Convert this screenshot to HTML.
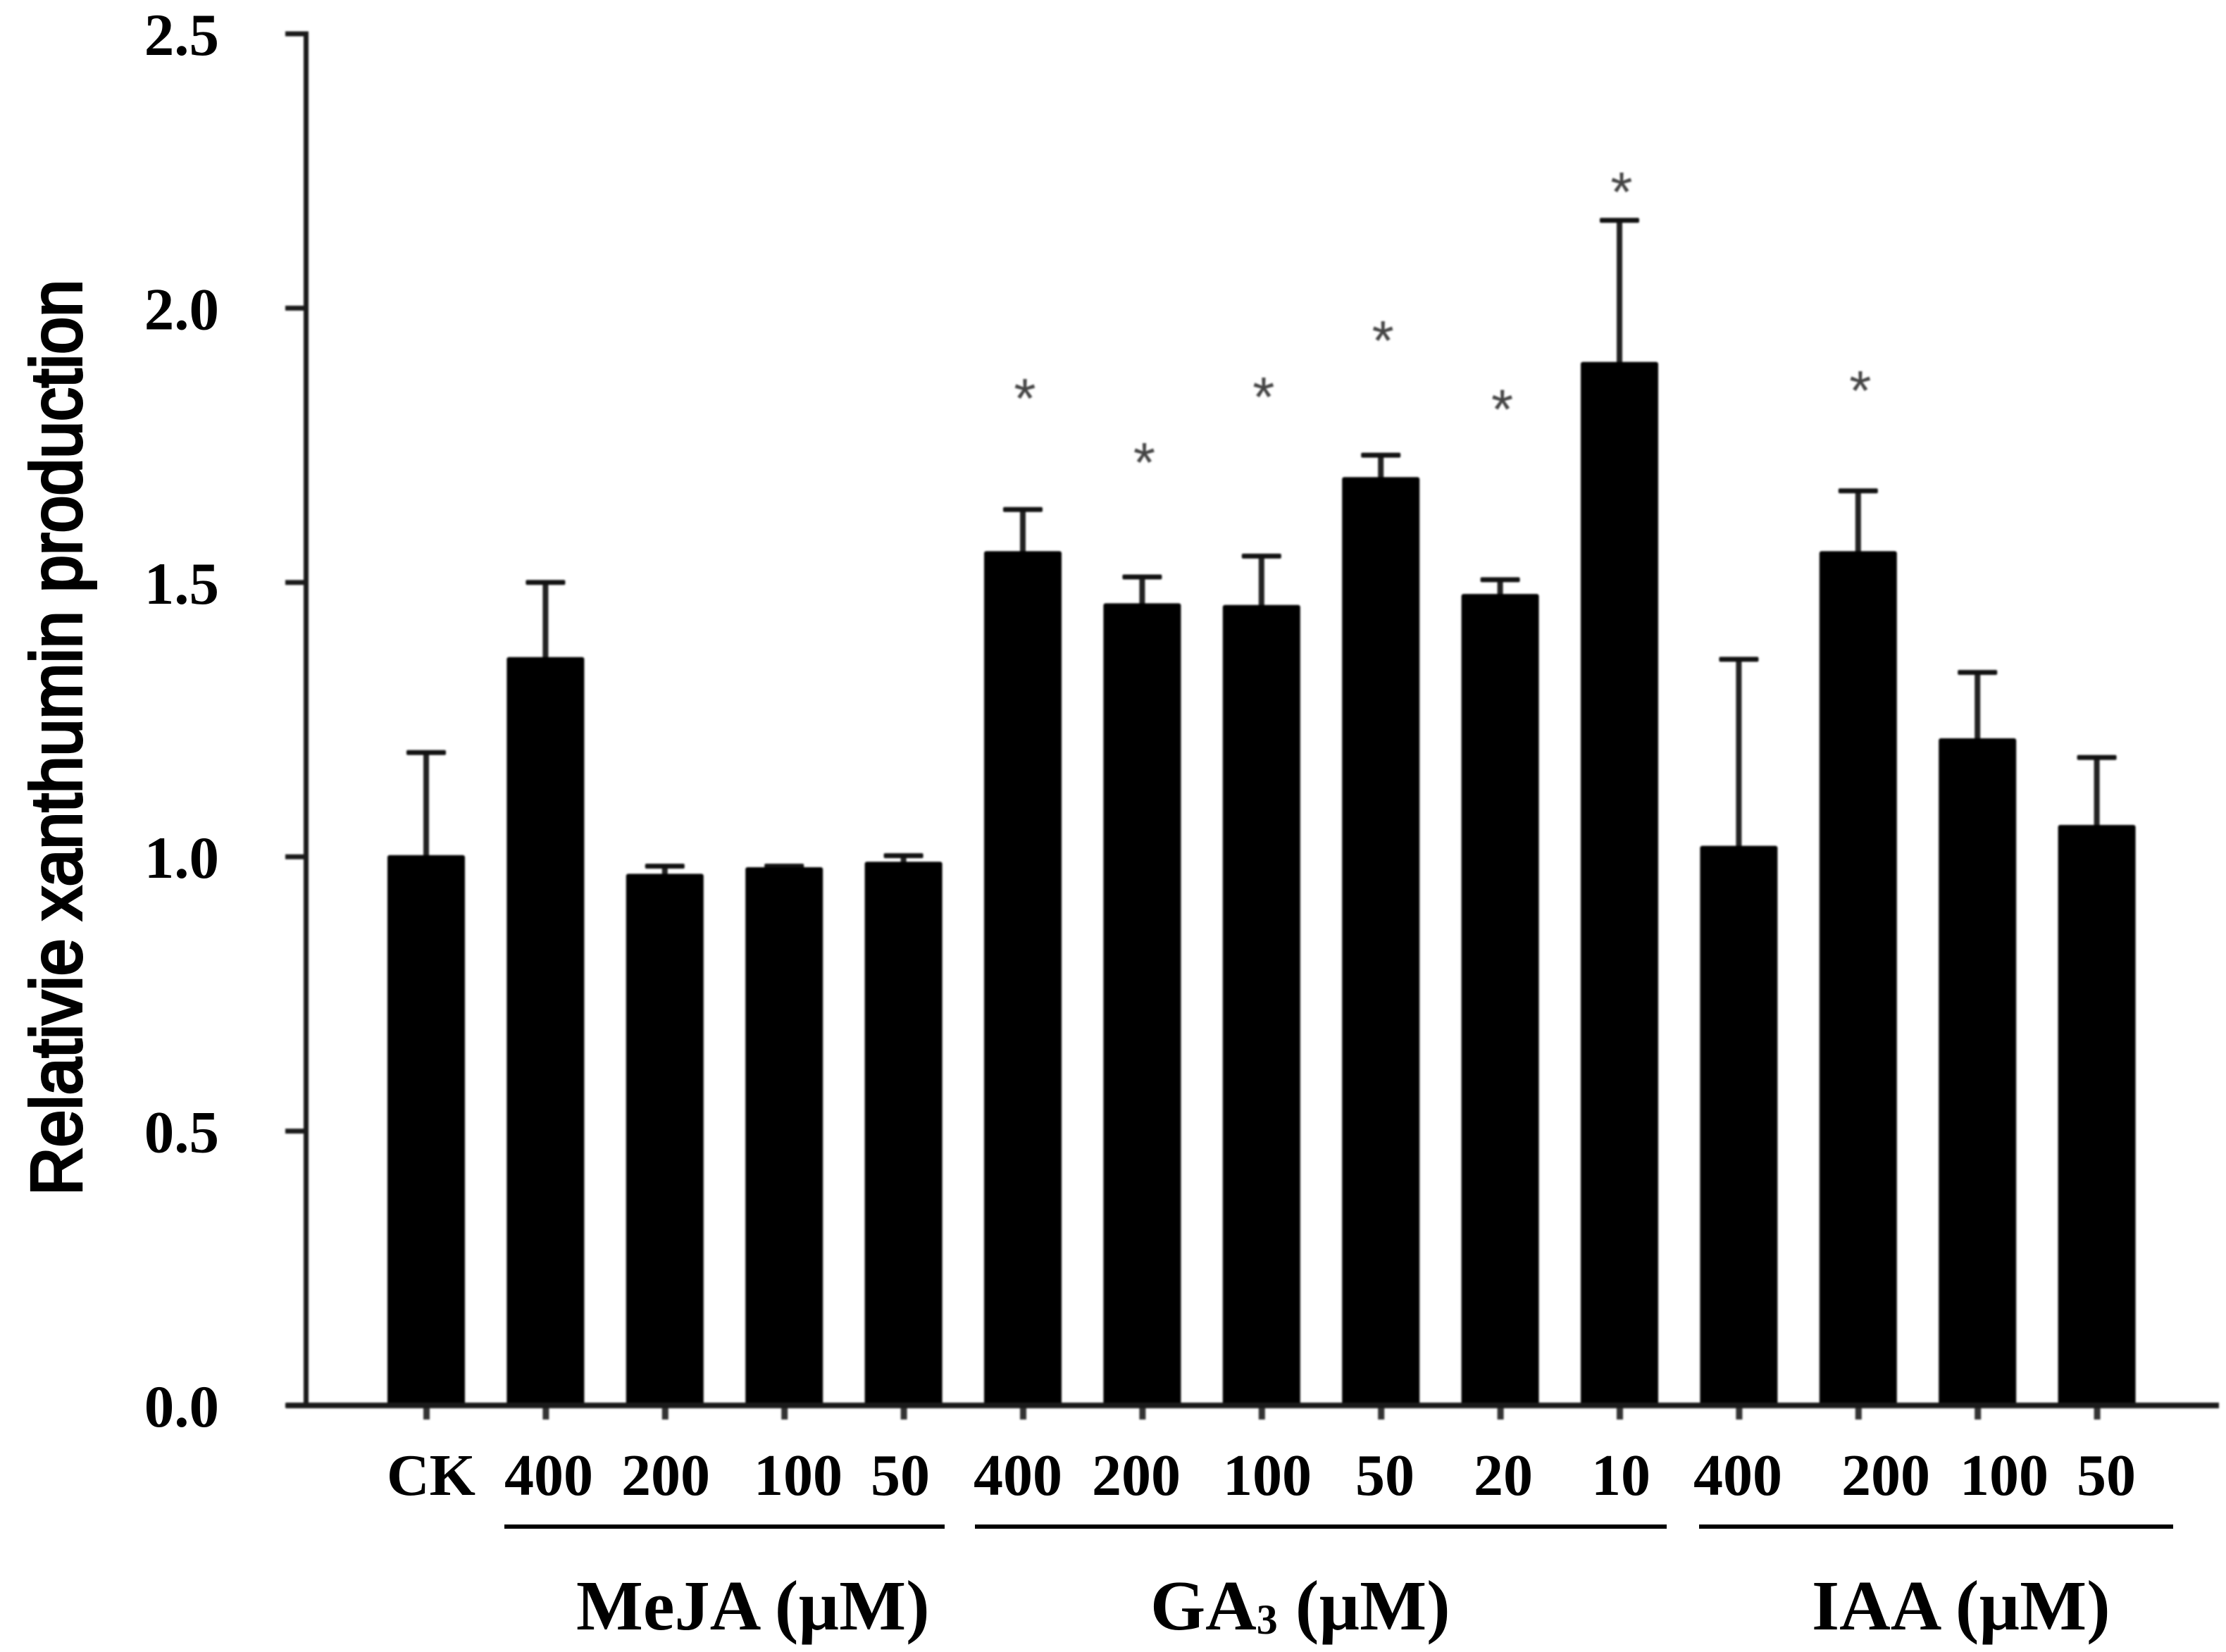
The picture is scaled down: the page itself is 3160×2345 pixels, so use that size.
<!DOCTYPE html>
<html lang="en">
<head>
<meta charset="utf-8">
<title>Relative xanthumin production</title>
<style>
html,body{margin:0;padding:0;background:#fff;}
svg{display:block;}
text{font-family:"Liberation Serif",serif;font-weight:bold;fill:#000;}
</style>
</head>
<body>
<svg id="chart" xmlns="http://www.w3.org/2000/svg" width="3160" height="2345" viewBox="0 0 3160 2345">
  <rect x="0" y="0" width="3160" height="2345" fill="#fff"/>
  <g id="marks" style="filter:blur(1.3px)"></g>
  <g id="ytick-labels"></g>
  <text transform="translate(115,1697) rotate(-90)" textLength="1300" lengthAdjust="spacingAndGlyphs" style="font-family:'Liberation Sans',sans-serif;font-weight:normal;font-size:102px;stroke:#000;stroke-width:4px;">Relativie xanthumin production</text>
  <g font-size="84" text-anchor="middle">
    <text x="612" y="2122">CK</text>
    <text x="779" y="2122">400</text>
    <text x="945" y="2122">200</text>
    <text x="1133" y="2122">100</text>
    <text x="1278" y="2122">50</text>
    <text x="1445" y="2122">400</text>
    <text x="1613" y="2122">200</text>
    <text x="1799" y="2122">100</text>
    <text x="1966" y="2122">50</text>
    <text x="2134" y="2122">20</text>
    <text x="2301" y="2122">10</text>
    <text x="2467" y="2122">400</text>
    <text x="2677" y="2122">200</text>
    <text x="2845" y="2122">100</text>
    <text x="2990" y="2122">50</text>
  </g>
  <g fill="#000">
    <rect x="716" y="2164" width="625" height="6"/>
    <rect x="1384" y="2164" width="982" height="6"/>
    <rect x="2412" y="2164" width="673" height="6"/>
  </g>
  <g font-size="100.5">
    <text x="818" y="2313">MeJA (µM)</text>
    <text x="1633" y="2313">GA<tspan font-size="60" dy="6">3</tspan><tspan dy="-6"> (µM)</tspan></text>
    <text x="2572" y="2313">IAA (µM)</text>
  </g>
</svg>
<script>
const categories = ["CK","MeJA 400","MeJA 200","MeJA 100","MeJA 50","GA3 400","GA3 200","GA3 100","GA3 50","GA3 20","GA3 10","IAA 400","IAA 200","IAA 100","IAA 50"];
const means = [1.003,1.364,0.969,0.981,0.991,1.557,1.462,1.459,1.692,1.479,1.902,1.02,1.557,1.216,1.058];
const errors = [0.187,0.136,0.014,0.002,0.011,0.076,0.048,0.089,0.04,0.026,0.258,0.34,0.11,0.12,0.123];
const starCategories = ["GA3 400","GA3 200","GA3 100","GA3 50","GA3 20","GA3 10","IAA 200"];
const starValues = [1.848,1.731,1.85,1.953,1.828,2.224,1.862];
const yTicks = [0,0.5,1,1.5,2,2.5];
const yTickLabels = ["0.0","0.5","1.0","1.5","2.0","2.5"];

const NS = "http://www.w3.org/2000/svg";
const marks = document.getElementById("marks");
const labelsG = document.getElementById("ytick-labels");
const baseY = 1995, pxPerUnit = 778.8, firstX = 605, stepX = 169.4, barW = 110;
function yScale(v){ return baseY - v * pxPerUnit; }
function xScale(i){ return firstX + i * stepX; }
function make(tag, attrs, parent){
  const el = document.createElementNS(NS, tag);
  for (const k in attrs) el.setAttribute(k, attrs[k]);
  parent.appendChild(el);
  return el;
}

yTicks.forEach(function(t, i){
  const tick = make("rect", {x:405, y:yScale(t)-3.5, width:30, height:7, fill:"#1a1a1a"}, marks);
  
  
  const label = make("text", {x:311, y:yScale(t)+30, "text-anchor":"end", "font-size":85}, labelsG);
  label.textContent = yTickLabels[i];
  
  
});

const yAxis = make("rect", {x:431, y:yScale(2.5)-3.5, width:7, height:yScale(0)-yScale(2.5)+3.5, fill:"#1a1a1a"}, marks);



categories.forEach(function(c, i){
  const x = xScale(i), top = yScale(means[i]), errTop = yScale(means[i] + errors[i]);
  const stem = make("rect", {x:x-4, y:errTop, width:8, height:top-errTop+2, fill:"#222"}, marks);
  
  
  const cap = make("rect", {x:x-28, y:errTop-3.5, width:56, height:7, rx:2, fill:"#111"}, marks);
  
  
  const bar = make("rect", {x:x-barW/2, y:top, width:barW, height:baseY-top, rx:3, fill:"#000"}, marks);
  
  
  const tk = make("rect", {x:x-4, y:baseY, width:9, height:20, fill:"#333"}, marks);
  
  
});

const xAxis = make("rect", {x:406, y:baseY-4, width:2744, height:8, fill:"#1a1a1a"}, marks);



starCategories.forEach(function(c, i){
  const idx = categories.indexOf(c);
  const s = make("text", {x:xScale(idx)+3, y:yScale(starValues[i])+37, "text-anchor":"middle", "font-size":80, style:"font-family:'Liberation Sans',sans-serif;font-weight:normal;fill:#444"}, marks);
  s.textContent = "*";
  
  
});
</script>
</body>
</html>
